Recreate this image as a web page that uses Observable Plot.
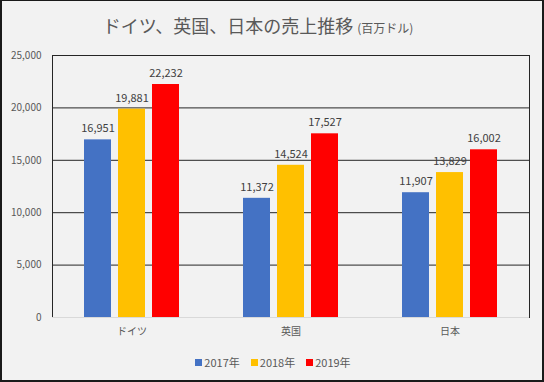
<!DOCTYPE html>
<html>
<head>
<meta charset="utf-8">
<script src="https://cdn.jsdelivr.net/npm/d3@7"></script>
<script src="https://cdn.jsdelivr.net/npm/@observablehq/plot@0.6"></script>
<style>
  html, body { margin: 0; padding: 0; background: #f2f2f2; }
  #wrap { position: relative; width: 544px; height: 382px; background: #f2f2f2; overflow: hidden;
          font-family: "Noto Sans CJK JP", "Noto Sans", sans-serif; }
  #border { position: absolute; left: 0; top: 0; width: 544px; height: 382px; box-sizing: border-box;
            border-top: 1px solid #1a1a1a; border-left: 2px solid #1a1a1a; border-right: 2px solid #1a1a1a;
            border-bottom: 2px solid #1a1a1a; pointer-events: none; }
  #title { position: absolute; top: 14px; left: -14px; width: 544px; text-align: center;
           color: #595959; font-size: 18px; line-height: 22px; white-space: nowrap; }
  #title .sub { font-size: 12px; }
  #chart { position: absolute; left: 0; top: 40px; }
  #legend { position: absolute; top: 354px; left: 0; width: 544px; display: flex; justify-content: center;
            gap: 11px; color: #595959; font-size: 11px; line-height: 16px; padding-left: 2px; box-sizing: border-box; }
  #legend .item { display: flex; align-items: center; }
  #legend .sw { width: 7px; height: 7px; margin-right: 2px; display: inline-block; }
</style>
</head>
<body>
<div id="wrap">
  <div id="title">ドイツ、英国、日本の売上推移 <span class="sub">(百万ドル)</span></div>
  <div id="chart"></div>
  <div id="legend"></div>
  <div id="border"></div>
</div>
<script>
const categories = ["ドイツ", "英国", "日本"];
const years = ["2017年", "2018年", "2019年"];
const sales2017 = [16951, 11372, 11907];
const sales2018 = [19881, 14524, 13829];
const sales2019 = [22232, 17527, 16002];
const yTicks = [0, 5000, 10000, 15000, 20000, 25000];
const colors = ["#4472c4", "#ffc000", "#ff0000"];

const seriesValues = [sales2017, sales2018, sales2019];
const data = [];
categories.forEach((c, i) => {
  years.forEach((y, j) => {
    data.push({category: c, year: y, value: seriesValues[j][i]});
  });
});

const fmt = d3.format(",");

const chart = Plot.plot({
  width: 544,
  height: 300,
  marginTop: 15,
  marginBottom: 23,
  marginLeft: 51,
  marginRight: 14,
  style: {background: "transparent", fontFamily: "\"Noto Sans CJK JP\", \"Noto Sans\", sans-serif", color: "#595959"},
  fx: {domain: categories, padding: 0, axis: "bottom", tickSize: 0, tickPadding: 10, label: null, fontSize: 12},
  x: {domain: years, axis: null, paddingInner: 0.2, paddingOuter: 0.88},
  y: {domain: [0, 25000], ticks: yTicks, tickSize: 0, tickPadding: 11, tickFormat: fmt, label: null, fontSize: 11},
  color: {domain: years, range: colors},
  marks: [
    Plot.ruleY(yTicks.filter(d => d > 0), {stroke: "#262626", strokeWidth: 1}),
    Plot.frame({stroke: "#262626", facet: "super"}),
    Plot.ruleY([0], {stroke: "#d9d9d9", strokeWidth: 1}),
    Plot.barY(data, {fx: "category", x: "year", y: "value", fill: "year"}),
    Plot.text(data, {fx: "category", x: "year", y: "value", text: d => fmt(d.value), dy: -11,
                     fill: "#404040", fontSize: 11})
  ]
});
document.getElementById("chart").appendChild(chart);

const legend = document.getElementById("legend");
years.forEach((y, j) => {
  const item = document.createElement("div");
  item.className = "item";
  const sw = document.createElement("span");
  sw.className = "sw";
  sw.style.background = colors[j];
  item.appendChild(sw);
  item.appendChild(document.createTextNode(y));
  legend.appendChild(item);
});
</script>
</body>
</html>
